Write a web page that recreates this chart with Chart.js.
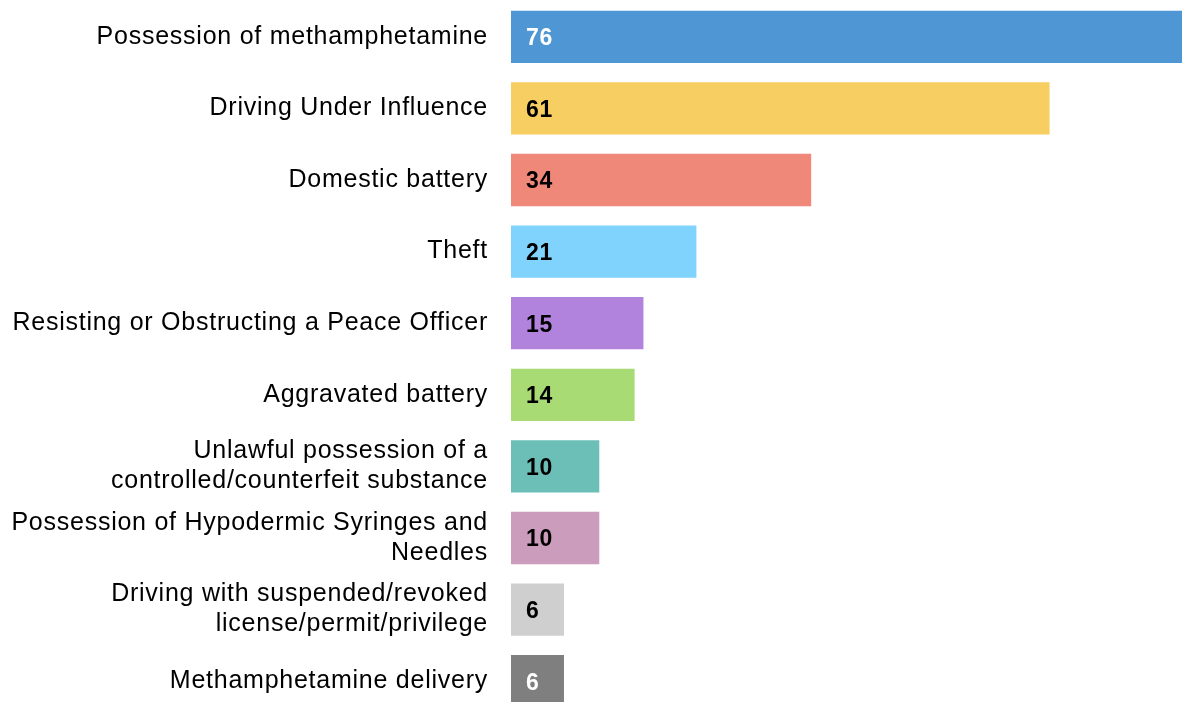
<!DOCTYPE html>
<html>
<head>
<meta charset="utf-8">
<script src="https://cdn.jsdelivr.net/npm/chart.js@4"></script>
<style>
  html, body { margin: 0; padding: 0; background: #fff; overflow: hidden; }
  #wrap { width: 1182px; height: 720px; position: relative; }
</style>
</head>
<body>
<div id="wrap"><canvas id="chart"></canvas></div>
<script>
'use strict';

const categories = [
  'Possession of methamphetamine',
  'Driving Under Influence',
  'Domestic battery',
  'Theft',
  'Resisting or Obstructing a Peace Officer',
  'Aggravated battery',
  ['Unlawful possession of a', 'controlled/counterfeit substance'],
  ['Possession of Hypodermic Syringes and', 'Needles'],
  ['Driving with suspended/revoked', 'license/permit/privilege'],
  'Methamphetamine delivery'
];
const counts = [76, 61, 34, 21, 15, 14, 10, 10, 6, 6];
const barColors = ['#4f96d4', '#f7ce62', '#f08879', '#80d3fc', '#b283dc', '#a9db74',
  '#6cbfb7', '#cb9cbb', '#d0cfcf', '#7f7f7f'];
const valueColors = ['#ffffff', '#000000', '#000000', '#000000', '#000000', '#000000',
  '#000000', '#000000', '#000000', '#ffffff'];

const FONT = '"Liberation Sans", Arial, sans-serif';

// the source font runs a bit wider than Arial, so space the axis labels out
const wideLabels = {
  id: 'wideLabels',
  beforeDraw(chart) { chart.ctx.letterSpacing = '0.75px'; }
};

// draws the count inside each bar, near its base
const valueLabels = {
  id: 'valueLabels',
  afterDatasetsDraw(chart) {
    const ctx = chart.ctx;
    const meta = chart.getDatasetMeta(0);
    ctx.save();
    ctx.letterSpacing = '0.8px';
    ctx.font = 'bold 23px ' + FONT;
    ctx.textBaseline = 'middle';
    ctx.textAlign = 'left';
    meta.data.forEach((bar, i) => {
      ctx.fillStyle = valueColors[i];
      ctx.fillText(String(counts[i]), bar.base + 15, bar.y + 2);
    });
    ctx.restore();
  }
};

new Chart(document.getElementById('chart').getContext('2d'), {
  type: 'bar',
  data: {
    labels: categories,
    datasets: [{
      data: counts,
      backgroundColor: barColors,
      borderWidth: 0,
      barPercentage: 0.73,
      categoryPercentage: 1
    }]
  },
  options: {
    indexAxis: 'y',
    responsive: true,
    maintainAspectRatio: false,
    animation: false,
    layout: { padding: { top: 1, right: 0, bottom: 3, left: 0 } },
    plugins: { legend: { display: false }, tooltip: { enabled: false } },
    scales: {
      x: { display: false, min: 0, max: 76 },
      y: {
        grid: { display: false },
        border: { display: false },
        afterFit: scale => {
          scale.width = 511;
          scale.paddingTop = 0;
          scale.paddingBottom = 0;
        },
        ticks: {
          padding: 15,
          color: '#000000',
          font: { family: FONT, size: 25, lineHeight: 1.2 }
        }
      }
    }
  },
  plugins: [wideLabels, valueLabels]
});
</script>
</body>
</html>
